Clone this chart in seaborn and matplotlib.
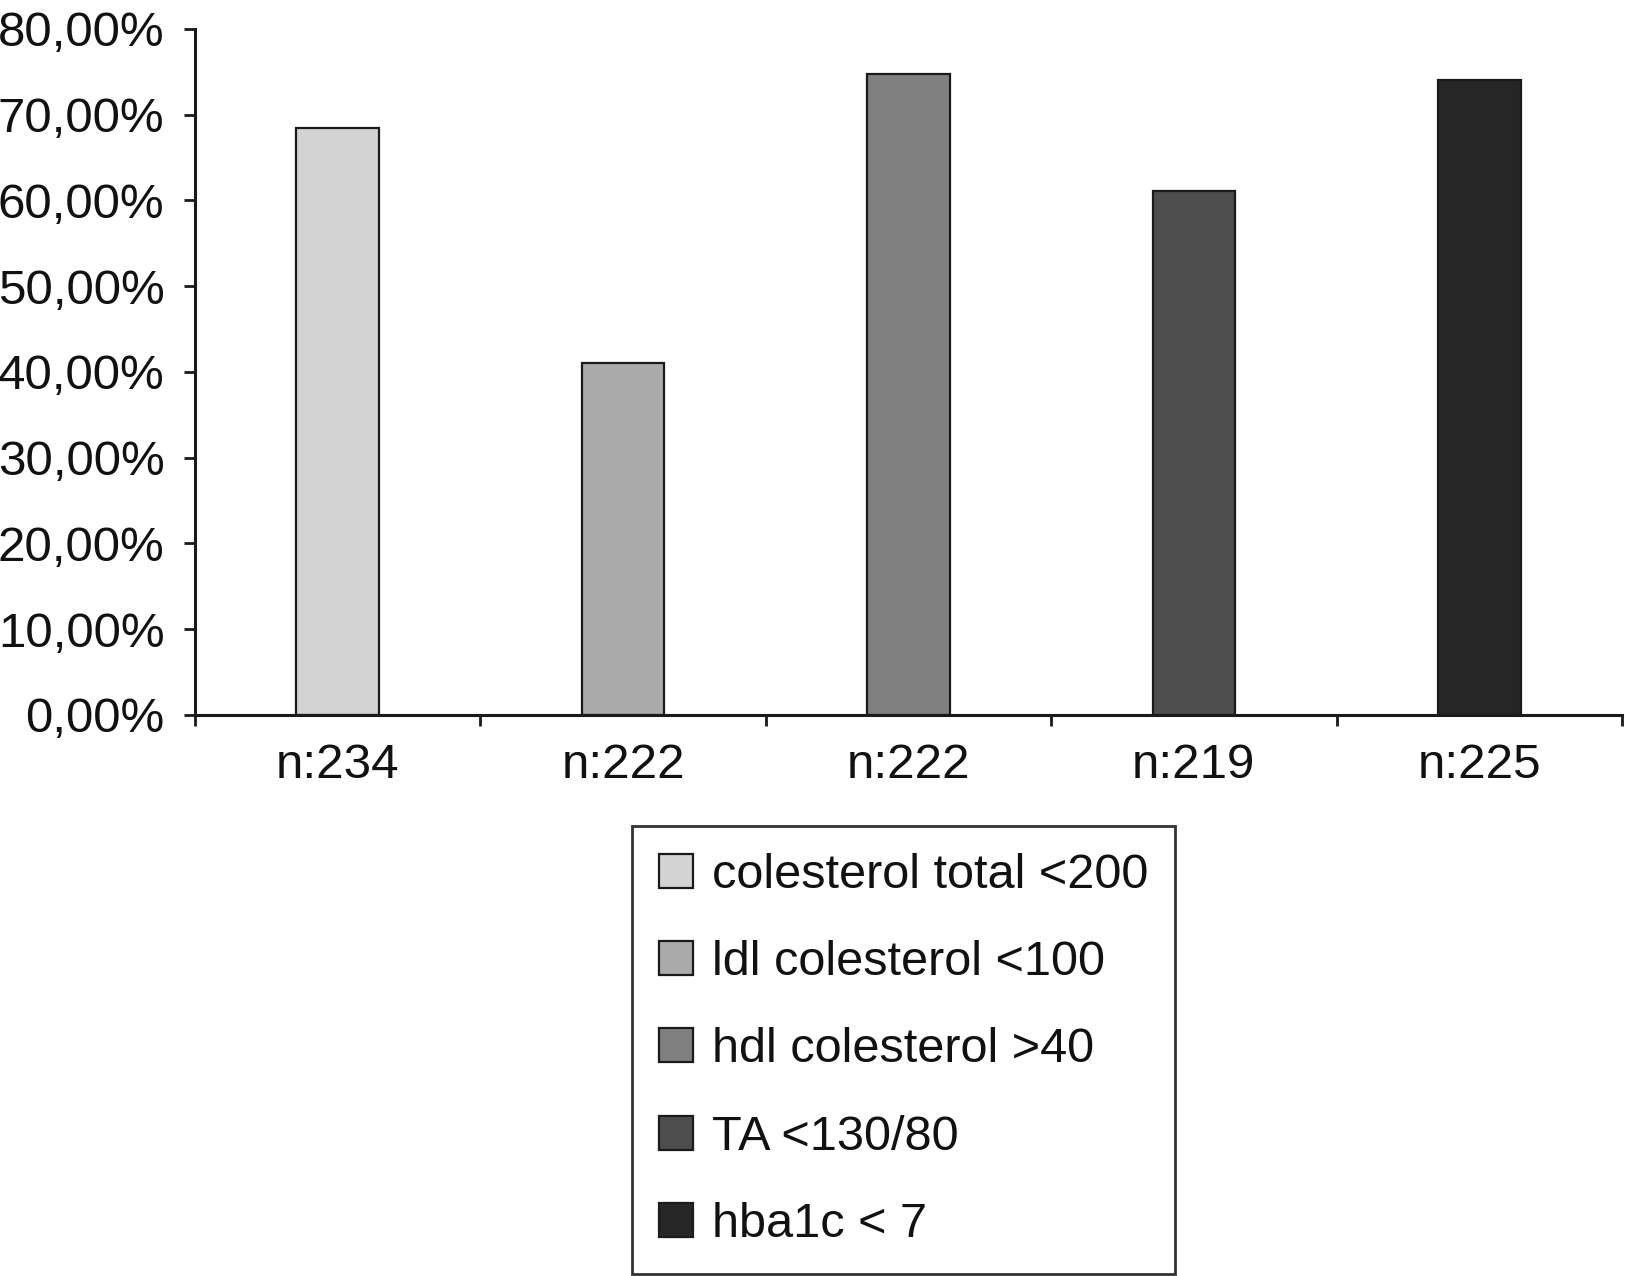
import matplotlib
matplotlib.use("Agg")
import matplotlib.pyplot as plt
import pandas as pd
import seaborn as sns

# Data
groups = ['colesterol total <200', 'ldl colesterol <100', 'hdl colesterol >40',
          'TA <130/80', 'hba1c < 7']
n_labels = ['n:234', 'n:222', 'n:222', 'n:219', 'n:225']
percent = [68.4, 41.1, 74.8, 61.1, 74.0]
greys = ['#d3d3d3', '#ababab', '#808080', '#4d4d4d', '#262626']
y_ticks = [0, 10, 20, 30, 40, 50, 60, 70, 80]

df = pd.DataFrame({'group': groups, 'percent': percent})

sns.set_style('white')
plt.rcParams['font.family'] = ['Liberation Sans', 'DejaVu Sans']
plt.rcParams['text.color'] = '#111111'
plt.rcParams['xtick.color'] = '#111111'
plt.rcParams['ytick.color'] = '#111111'

fig = plt.figure(figsize=(16.25, 12.76), dpi=100)
ax = fig.add_axes([195 / 1625, 1 - 715 / 1276, (1622 - 195) / 1625, (715 - 29) / 1276])

sns.barplot(data=df, x='group', y='percent', hue='group', palette=greys,
            dodge=False, width=0.29, edgecolor='#1a1a1a', linewidth=1.6,
            legend=True, ax=ax)

ax.set_xlim(-0.5, 4.5)
ax.set_ylim(0, 80)
ax.set_xlabel('')
ax.set_ylabel('')

ax.set_yticks(y_ticks)
ax.set_yticklabels([f'{v:.2f}%'.replace('.', ',') for v in y_ticks], fontsize=35.5)
ax.set_xticks(range(len(n_labels)))
ax.set_xticklabels(n_labels, fontsize=35.5)
ax.set_xticks([i - 0.5 for i in range(len(n_labels) + 1)], minor=True)
ax.tick_params(axis='x', which='major', bottom=True, length=0, pad=20)
ax.tick_params(axis='x', which='minor', bottom=True, length=8, width=2, direction='out', color='#1a1a1a')
ax.tick_params(axis='y', left=True, length=8, width=2, direction='out', color='#1a1a1a', pad=14)

sns.despine(ax=ax)
for side in ['left', 'bottom']:
    ax.spines[side].set_linewidth(2.2)
    ax.spines[side].set_color('#1a1a1a')

handles, labels = ax.get_legend_handles_labels()
ax.get_legend().remove()
leg = ax.legend(handles, labels, loc='upper left', bbox_to_anchor=(632 / 1625, 1 - 826 / 1276),
                bbox_transform=fig.transFigure, fontsize=35, frameon=True, fancybox=False,
                borderpad=0.55, labelspacing=0.87, handlelength=0.7, handleheight=0.7,
                handletextpad=0.4, borderaxespad=0)
leg.get_frame().set_edgecolor('#000000')
leg.get_frame().set_linewidth(2)

fig.savefig('out.png', dpi=100)
